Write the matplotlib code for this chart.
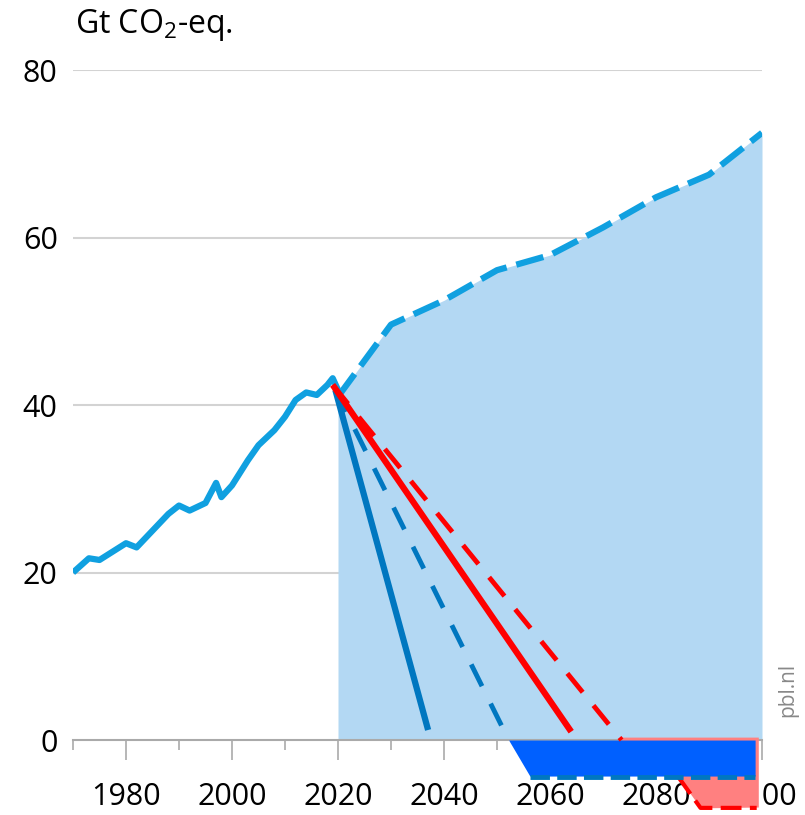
import numpy as np
import matplotlib.pyplot as plt

# historische emissies (Gt CO2-eq.)
hist_years = [1970, 1973, 1975, 1980, 1982, 1985, 1988, 1990, 1992, 1995, 1997, 1998,
              2000, 2003, 2005, 2008, 2010, 2012, 2014, 2016, 2018, 2019, 2020]
hist_values = [20.0, 21.7, 21.5, 23.5, 23.0, 25.0, 27.0, 28.0, 27.4, 28.3, 30.7, 29.0,
               30.4, 33.4, 35.2, 37.0, 38.6, 40.6, 41.5, 41.2, 42.4, 43.2, 41.8]

# referentiepad
base_years = [2020, 2030, 2040, 2050, 2060, 2070, 2080, 2090, 2100]
base_values = [41.0, 49.6, 52.5, 56.1, 57.9, 61.2, 64.8, 67.5, 72.5]

# reductiepaden
blue_solid_x = [2019.5, 2037]
blue_solid_y = [41.8, 1.2]
blue_dash_x = [2019.5, 2052.2]
blue_dash_y = [41.8, 0.0]
red_solid_x = [2019, 2064]
red_solid_y = [42.4, 1.0]
red_dash_x = [2019, 2073.5]
red_dash_y = [42.4, 0.0]

# negatieve emissies
blue_neg_x = [2052.2, 2056.2, 2098.7]
blue_neg_y = [0.0, -4.3, -4.3]
blue_neg_line_x = [2056.2, 2098.7]
blue_neg_line_y = [-4.4, -4.4]
red_neg_x = [2073.5, 2084.2, 2088.4, 2099.3]
red_neg_y = [0.0, -4.4, -8.1, -8.0]
red_neg_line_x = [2084.2, 2088.4, 2099.0]
red_neg_line_y = [-4.4, -8.1, -8.1]

plt.rcParams['font.family'] = ['Open Sans', 'DejaVu Sans']
plt.rcParams['mathtext.default'] = 'regular'

fig = plt.figure(figsize=(8.05, 8.15), dpi=100)
ax = fig.add_axes([73 / 805, 0.0, 689 / 805, 1 - 70 / 815])

light_blue = "#b3d8f3"
cyan = "#10a0e0"
dark_blue = "#0077c0"
red = "#ff0000"

ax.fill_between(base_years, 0, base_values, color=light_blue, lw=0, zorder=2)
ax.plot(hist_years, hist_values, color=cyan, lw=4.5, zorder=6, solid_capstyle="butt")
ax.plot(base_years, base_values, color=cyan, lw=4.5, dashes=(4.5, 1.6), zorder=6)

ax.fill_between(blue_neg_x + [2098.7], [0, 0, 0, 0], blue_neg_y + [0.0],
                color="#0060ff", lw=0, zorder=4)
ax.fill_between(red_neg_x, 0.35, red_neg_y, color="#ff8080", lw=0, zorder=3.5, clip_on=False)

ax.plot(blue_solid_x, blue_solid_y, color=dark_blue, lw=4.5, zorder=7, solid_capstyle="butt")
ax.plot(blue_dash_x, blue_dash_y, color=dark_blue, lw=3.5, dashes=(5, 4), zorder=7)
ax.plot(red_solid_x, red_solid_y, color=red, lw=4.5, zorder=8, solid_capstyle="butt")
ax.plot(red_dash_x, red_dash_y, color=red, lw=3.5, dashes=(5, 3.5), zorder=8)
ax.plot(blue_neg_line_x, blue_neg_line_y, color=dark_blue, lw=3.5, dashes=(4, 1.5), zorder=5)
ax.plot(red_neg_line_x, red_neg_line_y, color=red, lw=3, dashes=(5, 2), zorder=3.6,
        clip_on=False)

ax.set_xlim(1970, 2100)
ax.set_ylim(-8.95, 80)

for s in ["top", "right", "left"]:
    ax.spines[s].set_visible(False)
ax.spines["bottom"].set_position(("data", 0))
ax.spines["bottom"].set_color("#aaaaaa")
ax.spines["bottom"].set_linewidth(1.5)

ax.set_xticks(range(1980, 2101, 20))
ax.set_xticks(range(1970, 2100, 20), minor=True)
ax.tick_params(axis="x", which="major", length=14.4, width=1.2, color="#aaaaaa",
               labelsize=22, pad=16)
ax.tick_params(axis="x", which="minor", length=7.2, width=1.2, color="#aaaaaa")
ax.set_yticks([0, 20, 40, 60, 80])
ax.tick_params(axis="y", length=0, labelsize=22, pad=11)
ax.yaxis.grid(True, color="#d3d3d3", lw=1.5)
for gl in ax.yaxis.get_gridlines()[:1]:
    gl.set_visible(False)

fig.text(75 / 805, 1 - 25 / 815, "Gt CO$_2$-eq.", fontsize=23, va="center", ha="left")
fig.text(788 / 805, 1 - 690 / 815, "pbl.nl", fontsize=15, color="#888888",
         rotation=90, va="center", ha="center")

fig.savefig("out.png", dpi=100)
